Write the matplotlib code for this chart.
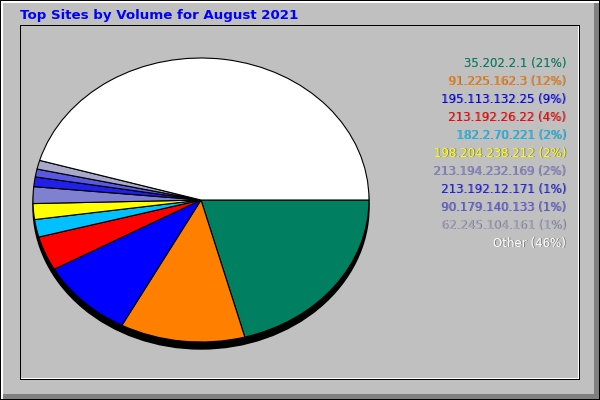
import matplotlib
matplotlib.use("Agg")
import matplotlib.pyplot as plt
from matplotlib.patches import Rectangle, Ellipse

# ---- data ----
title = "Top Sites by Volume for August 2021"
sites = ["35.202.2.1", "91.225.162.3", "195.113.132.25", "213.192.26.22",
         "182.2.70.221", "198.204.238.212", "213.194.232.169",
         "213.192.12.171", "90.179.140.133", "62.245.104.161", "Other"]
percent = [20.8, 12.0, 9.1, 3.9, 2.0, 1.8, 1.9, 1.1, 0.9, 1.0, 45.5]
colors = ["#008060", "#FF8000", "#0000FF", "#FF0000", "#00C0FF", "#FFFF00",
          "#8080D0", "#2020E8", "#5858E0", "#A8A8C8", "#FFFFFF"]

W, H = 600, 400
BG = "#C0C0C0"
DK = "#808080"

fig = plt.figure(figsize=(6, 4), dpi=100, facecolor=BG)
ax = fig.add_axes([0, 0, 1, 1])
ax.set_xlim(0, W)
ax.set_ylim(H, 0)
ax.axis("off")


def box(x, y, w, h, c, z=1):
    ax.add_patch(Rectangle((x, y), w, h, facecolor=c, edgecolor="none",
                           antialiased=False, zorder=z))


# outer bevel frame
box(0, 0, W, 1, "black")
box(0, 0, 1, H, "black")
box(0, H - 1, W, 1, "black")
box(W - 1, 0, 1, H, "black")
box(1, 1, W - 2, 2, "white")
box(1, 1, 2, H - 2, "white")
box(3, H - 6, W - 4, 5, DK)
box(W - 6, 3, 5, H - 4, DK)

# inner frame
box(20, 25, 560, 1, "black")
box(20, 25, 1, 355, "black")
box(20, 379, 560, 1, "black")
box(579, 25, 1, 355, "black")
box(21, 378, 558, 1, "white")
box(578, 26, 1, 353, "white")

# title
ax.text(20, 19.5, title, color="#0000FF", fontsize=9.6, fontweight="bold",
        family="DejaVu Sans", ha="left", va="baseline", zorder=5)

# pie geometry (pixels)
cx, cy, rx, ry = 201, 200, 168, 142
shadow = 7
ax.add_patch(Ellipse((cx, cy + shadow), 2 * rx, 2 * ry, facecolor="black",
                     edgecolor="black", zorder=2))

pax = fig.add_axes([(cx - rx) / W, (H - cy - ry) / H, 2 * rx / W, 2 * ry / H])
pax.pie(percent, colors=colors, startangle=0, counterclock=False, radius=1,
        wedgeprops=dict(edgecolor="black", linewidth=0.8))
pax.set_aspect("auto")
pax.set_xlim(-1, 1)
pax.set_ylim(-1, 1)
pax.axis("off")

# legend
x_right = 566
y0, dy = 66.5, 18
for i, (s, p, c) in enumerate(zip(sites, percent, colors)):
    label = f"{s} ({p:.0f}%)"
    y = y0 + i * dy
    ax.text(x_right + 1, y + 1, label, color=DK, fontsize=8.5,
            family="DejaVu Sans", ha="right", va="baseline", zorder=5)
    ax.text(x_right, y, label, color=c, fontsize=8.5,
            family="DejaVu Sans", ha="right", va="baseline", zorder=6)

fig.savefig("out.png", dpi=100, facecolor=BG)
